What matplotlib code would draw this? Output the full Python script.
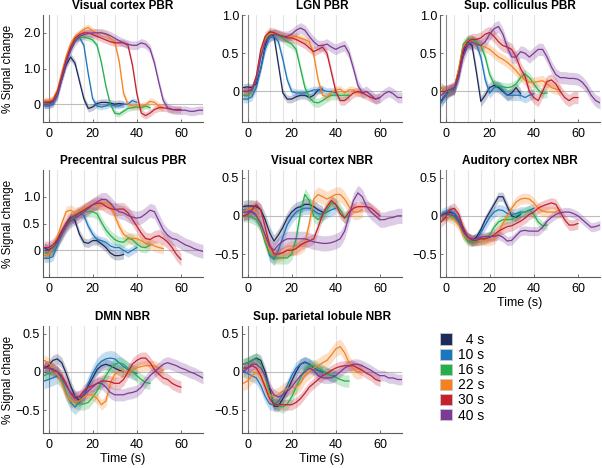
import numpy as np
import matplotlib.pyplot as plt
from matplotlib.patches import Patch

plt.rcParams['font.family'] = ['Liberation Sans', 'DejaVu Sans']

# Stimulus durations, legend and colours
durations = [4, 10, 16, 22, 30, 40]
legend_labels = ['  4 s', '10 s', '16 s', '22 s', '30 s', '40 s']
colors = ['#1d2a5c', '#1b75bf', '#23b04b', '#f5821f', '#c5202e', '#7b3b97']

# Sampling of every curve: first sample time and step (s)
t_start = -2
t_step = 2

# Visual cortex PBR
vis_pbr_04 = [0.05, 0.05, 0.08, 0.25, 0.7, 1.1, 1.32, 1.15, 0.65, 0.15, -0.12, -0.08, 0.02, 0.05, 0.05, 0.03, 0.0, 0.02, 0.0]
vis_pbr_10 = [-0.05, -0.05, 0.0, 0.25, 0.75, 1.2, 1.55, 1.8, 1.87, 1.65, 0.85, 0.15, -0.05, -0.08, -0.05, 0.0, -0.05, -0.05, 0.0, 0.0, 0.1, 0.05]
vis_pbr_16 = [0.0, 0.0, 0.05, 0.3, 0.8, 1.25, 1.6, 1.8, 1.88, 1.88, 1.85, 1.8, 1.65, 1.15, 0.5, 0.0, -0.25, -0.28, -0.2, -0.12, -0.1, -0.08, -0.1, -0.05, -0.1]
vis_pbr_22 = [0.1, 0.1, 0.15, 0.4, 0.9, 1.35, 1.7, 1.9, 2.0, 2.1, 2.15, 2.05, 2.0, 2.0, 1.95, 1.85, 1.75, 1.2, 0.3, 0.0, -0.05, -0.05, -0.05, -0.02, 0.08, 0.05, -0.05, -0.1]
vis_pbr_30 = [0.05, 0.05, 0.1, 0.35, 0.8, 1.25, 1.6, 1.85, 1.95, 2.0, 2.0, 1.95, 1.9, 1.85, 1.8, 1.75, 1.72, 1.72, 1.72, 1.65, 1.1, 0.3, -0.25, -0.32, -0.25, -0.15, -0.1, -0.1, -0.12, -0.15, -0.15, -0.15]
vis_pbr_40 = [0.0, 0.0, 0.05, 0.25, 0.7, 1.15, 1.5, 1.75, 1.9, 1.95, 1.98, 2.0, 2.0, 2.0, 1.97, 1.92, 1.85, 1.78, 1.72, 1.68, 1.65, 1.65, 1.72, 1.68, 1.55, 1.15, 0.6, 0.1, -0.1, -0.15, -0.17, -0.17, -0.17, -0.2, -0.2, -0.17, -0.17]
vis_pbr_err = [0.1, 0.08, 0.08, 0.1, 0.1, 0.12]

# LGN PBR
lgn_pbr_04 = [0.05, 0.06, 0.05, 0.1, 0.3, 0.6, 0.77, 0.72, 0.35, -0.02, -0.1, -0.1, -0.07, -0.05, -0.05, -0.08, -0.05, 0.02, 0.03]
lgn_pbr_10 = [-0.1, -0.1, -0.07, 0.05, 0.3, 0.55, 0.7, 0.72, 0.65, 0.42, 0.15, 0.0, -0.02, -0.02, -0.02, 0.0, 0.02, 0.02, 0.02, 0.0, 0.0, -0.02]
lgn_pbr_16 = [-0.05, -0.05, 0.0, 0.15, 0.45, 0.68, 0.75, 0.75, 0.72, 0.7, 0.65, 0.62, 0.55, 0.3, 0.05, -0.08, -0.14, -0.15, -0.12, -0.08, -0.05, -0.05, -0.05, -0.05, -0.05]
lgn_pbr_22 = [0.0, 0.0, 0.03, 0.2, 0.5, 0.7, 0.76, 0.76, 0.75, 0.72, 0.72, 0.72, 0.72, 0.7, 0.68, 0.65, 0.48, 0.15, -0.05, -0.07, -0.02, 0.02, 0.03, -0.02, 0.02, 0.02, -0.02, -0.02]
lgn_pbr_30 = [0.0, 0.0, 0.03, 0.2, 0.55, 0.72, 0.78, 0.77, 0.74, 0.72, 0.7, 0.7, 0.68, 0.65, 0.62, 0.57, 0.52, 0.55, 0.58, 0.5, 0.25, 0.0, -0.12, -0.12, -0.07, -0.02, 0.0, -0.02, -0.05, -0.08, -0.1, -0.08]
lgn_pbr_40 = [0.0, 0.0, 0.02, 0.15, 0.45, 0.65, 0.72, 0.75, 0.74, 0.72, 0.72, 0.75, 0.8, 0.83, 0.8, 0.72, 0.65, 0.6, 0.6, 0.62, 0.58, 0.55, 0.58, 0.6, 0.5, 0.3, 0.08, -0.02, 0.0, -0.05, -0.1, -0.08, -0.03, 0.0, -0.03, -0.08, -0.08]
lgn_pbr_err = [0.05, 0.05, 0.06, 0.05, 0.06, 0.07]

# Sup. colliculus PBR
sc_pbr_04 = [-0.12, -0.05, 0.02, 0.03, 0.2, 0.5, 0.65, 0.6, 0.25, -0.13, -0.05, 0.05, 0.08, 0.05, 0.0, -0.05, -0.02, 0.05, -0.03]
sc_pbr_10 = [-0.15, -0.05, 0.0, 0.02, 0.25, 0.55, 0.63, 0.65, 0.62, 0.45, 0.15, -0.02, 0.05, 0.07, 0.02, -0.05, -0.05, -0.05, -0.05, -0.08, -0.05, -0.03]
sc_pbr_16 = [0.05, 0.0, 0.0, 0.05, 0.3, 0.62, 0.68, 0.68, 0.65, 0.6, 0.45, 0.22, 0.1, 0.07, 0.06, 0.05, 0.06, 0.1, 0.18, 0.23, 0.18, 0.1, 0.02, -0.03, -0.02]
sc_pbr_22 = [0.05, 0.0, 0.02, 0.05, 0.3, 0.58, 0.66, 0.66, 0.62, 0.6, 0.58, 0.55, 0.5, 0.45, 0.42, 0.38, 0.33, 0.27, 0.2, 0.15, 0.12, 0.12, 0.13, 0.14, 0.1, 0.05, 0.03, 0.02]
sc_pbr_30 = [0.0, 0.0, 0.02, 0.05, 0.25, 0.55, 0.65, 0.68, 0.68, 0.7, 0.75, 0.77, 0.72, 0.65, 0.6, 0.58, 0.55, 0.45, 0.3, 0.2, 0.0, -0.08, -0.12, 0.0, 0.13, 0.15, 0.1, 0.0, -0.08, -0.12, -0.08, -0.08]
sc_pbr_40 = [-0.05, 0.0, 0.02, 0.05, 0.2, 0.45, 0.6, 0.65, 0.62, 0.6, 0.65, 0.75, 0.82, 0.85, 0.75, 0.58, 0.45, 0.45, 0.52, 0.5, 0.45, 0.5, 0.55, 0.55, 0.45, 0.32, 0.22, 0.18, 0.18, 0.17, 0.17, 0.16, 0.12, 0.05, -0.05, -0.12, -0.15]
sc_pbr_err = [0.07, 0.07, 0.06, 0.07, 0.08, 0.08]

# Precentral sulcus PBR
pcs_pbr_04 = [0.05, 0.0, 0.05, 0.2, 0.35, 0.5, 0.62, 0.55, 0.3, 0.15, 0.13, 0.18, 0.18, 0.12, 0.05, -0.05, -0.1, -0.1, -0.08]
pcs_pbr_10 = [-0.15, -0.15, -0.12, 0.1, 0.3, 0.45, 0.58, 0.62, 0.7, 0.65, 0.45, 0.3, 0.2, 0.18, 0.15, 0.08, 0.05, 0.05, 0.0, -0.05, 0.0, 0.05]
pcs_pbr_16 = [-0.05, -0.05, 0.0, 0.15, 0.3, 0.45, 0.55, 0.65, 0.7, 0.72, 0.72, 0.72, 0.68, 0.52, 0.38, 0.28, 0.2, 0.16, 0.15, 0.22, 0.2, 0.12, 0.06, 0.05, 0.1]
pcs_pbr_22 = [-0.1, -0.08, 0.05, 0.25, 0.5, 0.72, 0.75, 0.7, 0.72, 0.78, 0.82, 0.85, 0.85, 0.85, 0.88, 0.85, 0.65, 0.45, 0.3, 0.24, 0.22, 0.22, 0.18, 0.13, 0.12, 0.08, 0.05, 0.03]
pcs_pbr_30 = [0.05, 0.05, 0.1, 0.2, 0.35, 0.5, 0.6, 0.65, 0.7, 0.75, 0.8, 0.85, 0.88, 0.88, 0.82, 0.78, 0.76, 0.77, 0.77, 0.7, 0.58, 0.45, 0.32, 0.22, 0.2, 0.25, 0.27, 0.22, 0.15, 0.05, -0.08, -0.17]
pcs_pbr_40 = [0.0, 0.0, 0.05, 0.15, 0.3, 0.45, 0.55, 0.6, 0.65, 0.72, 0.78, 0.85, 0.9, 0.95, 0.95, 0.88, 0.78, 0.72, 0.7, 0.65, 0.62, 0.6, 0.62, 0.68, 0.75, 0.72, 0.55, 0.38, 0.28, 0.22, 0.2, 0.15, 0.1, 0.07, 0.03, 0.0, -0.02]
pcs_pbr_err = [0.08, 0.08, 0.1, 0.1, 0.12, 0.13]

# Visual cortex NBR
vis_nbr_04 = [0.12, 0.13, 0.13, 0.12, 0.08, -0.05, -0.22, -0.33, -0.25, -0.15, -0.03, 0.05, 0.1, 0.12, 0.15, 0.15, 0.12, 0.08, 0.05]
vis_nbr_10 = [0.08, 0.08, 0.05, 0.02, -0.1, -0.3, -0.52, -0.57, -0.45, -0.28, -0.12, -0.02, 0.05, 0.08, 0.1, 0.1, 0.07, 0.03, 0.02, 0.05, 0.08, 0.1]
vis_nbr_16 = [0.0, 0.0, -0.02, -0.05, -0.15, -0.35, -0.5, -0.55, -0.55, -0.55, -0.55, -0.5, -0.3, 0.05, 0.28, 0.2, 0.0, -0.05, 0.0, 0.08, 0.17, 0.15, 0.08, -0.02, 0.0]
vis_nbr_22 = [0.05, 0.08, 0.1, 0.05, -0.1, -0.3, -0.45, -0.5, -0.5, -0.48, -0.45, -0.42, -0.42, -0.4, -0.35, -0.1, 0.22, 0.28, 0.25, 0.22, 0.25, 0.28, 0.28, 0.22, 0.12, 0.05, 0.05, 0.08]
vis_nbr_30 = [0.0, 0.02, 0.08, 0.15, 0.08, -0.15, -0.38, -0.5, -0.5, -0.48, -0.45, -0.45, -0.43, -0.38, -0.35, -0.33, -0.3, -0.15, 0.02, 0.12, 0.2, 0.15, 0.03, -0.03, 0.05, 0.1, 0.12, 0.12, 0.12, 0.1, 0.05, 0.0]
vis_nbr_40 = [0.05, 0.05, 0.05, 0.0, -0.1, -0.25, -0.4, -0.45, -0.38, -0.33, -0.3, -0.3, -0.3, -0.3, -0.3, -0.32, -0.34, -0.35, -0.36, -0.36, -0.35, -0.33, -0.3, -0.2, 0.0, 0.2, 0.3, 0.25, 0.12, 0.05, 0.0, -0.05, -0.05, -0.03, -0.02, 0.0, 0.0]
vis_nbr_err = [0.08, 0.08, 0.08, 0.1, 0.07, 0.1]

# Auditory cortex NBR
aud_nbr_04 = [0.0, 0.03, 0.05, 0.03, -0.05, -0.18, -0.28, -0.32, -0.28, -0.18, -0.05, 0.05, 0.15, 0.25, 0.25, 0.12, 0.0, -0.02, 0.02]
aud_nbr_10 = [0.02, 0.05, 0.07, 0.03, -0.05, -0.2, -0.3, -0.33, -0.3, -0.22, -0.12, -0.02, 0.05, 0.08, 0.07, 0.03, 0.02, 0.03, 0.05, 0.05, 0.07, 0.1]
aud_nbr_16 = [0.0, 0.0, 0.0, -0.02, -0.1, -0.25, -0.33, -0.34, -0.33, -0.32, -0.3, -0.25, -0.15, -0.08, -0.05, -0.05, -0.05, 0.0, 0.03, 0.05, 0.08, 0.02, -0.08, -0.13, -0.12]
aud_nbr_22 = [0.0, 0.0, -0.02, -0.05, -0.12, -0.25, -0.3, -0.32, -0.32, -0.32, -0.32, -0.32, -0.3, -0.22, -0.1, 0.0, 0.1, 0.18, 0.22, 0.23, 0.22, 0.17, 0.1, 0.06, 0.05, 0.05, 0.05, 0.05]
aud_nbr_30 = [-0.08, -0.02, 0.08, 0.1, 0.02, -0.15, -0.28, -0.32, -0.32, -0.3, -0.3, -0.28, -0.25, -0.2, -0.17, -0.14, -0.13, -0.1, -0.07, -0.03, 0.02, 0.05, 0.1, 0.13, 0.15, 0.17, 0.15, 0.05, -0.05, -0.12, -0.12, -0.1]
aud_nbr_40 = [0.0, 0.02, 0.02, 0.0, -0.08, -0.2, -0.28, -0.3, -0.3, -0.28, -0.27, -0.27, -0.27, -0.25, -0.28, -0.33, -0.32, -0.26, -0.2, -0.19, -0.2, -0.2, -0.2, -0.15, -0.07, -0.02, 0.02, 0.04, 0.05, 0.05, 0.03, 0.0, -0.05, -0.1, -0.15, -0.14, -0.12]
aud_nbr_err = [0.06, 0.07, 0.06, 0.07, 0.07, 0.06]

# DMN NBR
dmn_nbr_04 = [0.05, 0.08, 0.15, 0.17, 0.12, -0.02, -0.18, -0.32, -0.38, -0.3, -0.18, -0.08, 0.03, 0.08, 0.1, 0.08, 0.05, 0.02, 0.0]
dmn_nbr_10 = [-0.12, -0.1, -0.08, -0.05, -0.12, -0.28, -0.4, -0.46, -0.4, -0.3, -0.15, -0.02, 0.08, 0.14, 0.17, 0.18, 0.17, 0.12, 0.07, 0.03, 0.0, -0.02]
dmn_nbr_16 = [-0.05, -0.02, 0.0, 0.0, -0.1, -0.28, -0.38, -0.4, -0.42, -0.42, -0.4, -0.33, -0.25, -0.15, -0.05, 0.04, 0.1, 0.12, 0.1, 0.05, 0.0, -0.05, -0.1, -0.14, -0.15]
dmn_nbr_22 = [0.15, 0.12, 0.05, -0.03, -0.15, -0.3, -0.38, -0.4, -0.38, -0.33, -0.3, -0.3, -0.35, -0.43, -0.38, -0.15, -0.03, 0.0, 0.0, 0.0, 0.02, 0.05, 0.07, 0.08, 0.08, 0.08, 0.05, 0.02]
dmn_nbr_30 = [0.08, 0.05, 0.02, 0.0, -0.05, -0.15, -0.28, -0.35, -0.32, -0.25, -0.2, -0.18, -0.15, -0.12, -0.12, -0.13, -0.15, -0.15, -0.1, 0.0, 0.1, 0.15, 0.18, 0.18, 0.12, 0.03, -0.03, -0.08, -0.1, -0.15, -0.18, -0.2]
dmn_nbr_40 = [0.05, 0.05, 0.04, 0.0, -0.08, -0.18, -0.27, -0.32, -0.33, -0.3, -0.25, -0.2, -0.15, -0.15, -0.2, -0.27, -0.3, -0.3, -0.3, -0.28, -0.27, -0.25, -0.2, -0.12, -0.05, 0.0, 0.05, 0.1, 0.12, 0.1, 0.08, 0.05, 0.03, 0.0, -0.02, -0.05, -0.08]
dmn_nbr_err = [0.07, 0.1, 0.08, 0.07, 0.08, 0.08]

# Sup. parietal lobule NBR
spl_nbr_04 = [0.1, 0.12, 0.15, 0.18, 0.15, 0.0, -0.22, -0.45, -0.45, -0.35, -0.25, -0.12, 0.0, 0.1, 0.13, 0.1, 0.05, 0.02, 0.0]
spl_nbr_10 = [0.02, -0.02, -0.05, -0.08, -0.18, -0.32, -0.42, -0.43, -0.38, -0.3, -0.18, -0.05, 0.05, 0.1, 0.12, 0.1, 0.05, 0.02, 0.0, -0.02, -0.05, -0.05]
spl_nbr_16 = [0.1, 0.12, 0.15, 0.17, 0.1, -0.08, -0.28, -0.4, -0.44, -0.46, -0.42, -0.33, -0.2, -0.08, 0.03, 0.08, 0.08, 0.05, 0.02, -0.02, -0.05, -0.07, -0.1, -0.12, -0.12]
spl_nbr_22 = [-0.15, -0.12, -0.05, 0.0, -0.05, -0.18, -0.3, -0.32, -0.3, -0.25, -0.22, -0.2, -0.2, -0.15, -0.05, 0.0, 0.05, 0.08, 0.12, 0.15, 0.22, 0.3, 0.33, 0.25, 0.12, 0.03, 0.0, 0.02]
spl_nbr_30 = [0.05, 0.05, 0.08, 0.05, -0.05, -0.2, -0.35, -0.42, -0.43, -0.43, -0.43, -0.43, -0.4, -0.35, -0.28, -0.2, -0.15, -0.1, -0.05, -0.02, 0.02, 0.05, 0.07, 0.08, 0.08, 0.08, 0.05, 0.02, -0.02, -0.05, -0.1, -0.12]
spl_nbr_40 = [0.0, 0.05, 0.1, 0.1, 0.05, -0.05, -0.2, -0.3, -0.33, -0.3, -0.25, -0.2, -0.12, -0.05, 0.0, 0.05, 0.02, -0.05, -0.08, -0.08, -0.08, -0.05, 0.0, 0.05, 0.08, 0.1, 0.1, 0.08, 0.05, 0.02, -0.02, -0.05, -0.05, -0.08, -0.08, -0.1, -0.1]
spl_nbr_err = [0.07, 0.08, 0.08, 0.1, 0.07, 0.07]

pbr_ticks = ([0, 1, 2], ['0', '1.0', '2.0'])
small_ticks = ([0, 0.5, 1.0], ['0', '0.5', '1.0'])
nbr_ticks = ([-0.5, 0, 0.5], ['\u22120.5', '0', '0.5'])

# title, curves, band half-widths, y limits, y ticks, grid cell (row, col)
panels = [
    ('Visual cortex PBR', [vis_pbr_04, vis_pbr_10, vis_pbr_16, vis_pbr_22, vis_pbr_30, vis_pbr_40],
     vis_pbr_err, (-0.5, 2.5), pbr_ticks, (0, 0)),
    ('LGN PBR', [lgn_pbr_04, lgn_pbr_10, lgn_pbr_16, lgn_pbr_22, lgn_pbr_30, lgn_pbr_40],
     lgn_pbr_err, (-0.4, 1.0), small_ticks, (0, 1)),
    ('Sup. colliculus PBR', [sc_pbr_04, sc_pbr_10, sc_pbr_16, sc_pbr_22, sc_pbr_30, sc_pbr_40],
     sc_pbr_err, (-0.4, 1.0), small_ticks, (0, 2)),
    ('Precentral sulcus PBR', [pcs_pbr_04, pcs_pbr_10, pcs_pbr_16, pcs_pbr_22, pcs_pbr_30, pcs_pbr_40],
     pcs_pbr_err, (-0.5, 1.5), small_ticks, (1, 0)),
    ('Visual cortex NBR', [vis_nbr_04, vis_nbr_10, vis_nbr_16, vis_nbr_22, vis_nbr_30, vis_nbr_40],
     vis_nbr_err, (-0.8, 0.6), nbr_ticks, (1, 1)),
    ('Auditory cortex NBR', [aud_nbr_04, aud_nbr_10, aud_nbr_16, aud_nbr_22, aud_nbr_30, aud_nbr_40],
     aud_nbr_err, (-0.8, 0.6), nbr_ticks, (1, 2)),
    ('DMN NBR', [dmn_nbr_04, dmn_nbr_10, dmn_nbr_16, dmn_nbr_22, dmn_nbr_30, dmn_nbr_40],
     dmn_nbr_err, (-0.8, 0.6), nbr_ticks, (2, 0)),
    ('Sup. parietal lobule NBR', [spl_nbr_04, spl_nbr_10, spl_nbr_16, spl_nbr_22, spl_nbr_30, spl_nbr_40],
     spl_nbr_err, (-0.8, 0.6), nbr_ticks, (2, 1)),
]

W, H = 602, 468
fig = plt.figure(figsize=(W / 100, H / 100), dpi=100)

col_left = [43, 242, 440]
row_top = [15, 170, 326]
ax_w, ax_h = 160, 107

for title, curves, errs, ylim, yticks, (r, c) in panels:
    ax = fig.add_axes([col_left[c] / W, 1 - (row_top[r] + ax_h) / H, ax_w / W, ax_h / H])

    # onset and stimulus offset markers
    for d in durations:
        ax.axvline(d, color='#e4e4e4', lw=0.8, zorder=0)
    ax.axvline(0, color='#8a8a8a', lw=0.8, zorder=0)
    ax.axhline(0, color='#bdbdbd', lw=0.8, zorder=0)

    for vals, err, col in zip(curves, errs, colors):
        y = np.array(vals)
        t = t_start + t_step * np.arange(len(y))
        ax.fill_between(t, y - err, y + err, color=col, alpha=0.25, lw=0, zorder=1)
    for vals, col in zip(curves, colors):
        y = np.array(vals)
        t = t_start + t_step * np.arange(len(y))
        ax.plot(t, y, color=col, lw=0.9, zorder=2)

    ax.set_xlim(-2.5, 70)
    ax.set_ylim(*ylim)
    ax.set_xticks([0, 20, 40, 60])
    ax.set_yticks(yticks[0])
    ax.set_yticklabels(yticks[1])
    ax.set_title(title, fontsize=8.5, fontweight='bold', pad=4)

    for s in ['top', 'right']:
        ax.spines[s].set_visible(False)
    for s in ['left', 'bottom']:
        ax.spines[s].set_color('#5a5a5a')
        ax.spines[s].set_linewidth(0.8)
    ax.tick_params(direction='in', length=2, width=0.6, color='#5a5a5a',
                   labelsize=9, pad=2)
    ax.tick_params(axis='x', pad=4)

    if c == 0:
        ax.set_ylabel('% Signal change', fontsize=8.5)
        ax.yaxis.set_label_coords(-29 / ax_w, 0.5)
    if (r, c) in [(1, 2), (2, 0), (2, 1)]:
        ax.set_xlabel('Time (s)', fontsize=9, labelpad=2)

handles = [Patch(facecolor=col, edgecolor='#c8c8c8', lw=0.6) for col in colors]
fig.legend(handles, legend_labels, loc='upper left', bbox_to_anchor=(433 / W, 1 - 326 / H),
           frameon=False, fontsize=10, handlelength=0.9, handleheight=0.9,
           handletextpad=0.4, labelspacing=0.08, borderpad=0)

fig.savefig('out.png', dpi=100)
